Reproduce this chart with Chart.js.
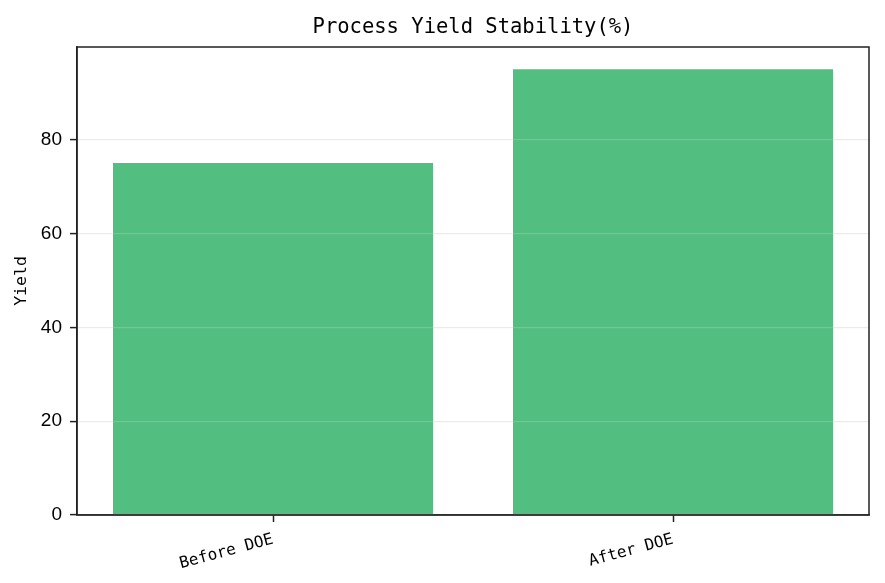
<!DOCTYPE html>
<html>
<head>
<meta charset="utf-8">
<script src="https://cdn.jsdelivr.net/npm/chart.js@4.4.1/dist/chart.umd.min.js"></script>
<style>
  html, body { margin: 0; padding: 0; background: #fff; }
  #wrap { width: 885px; height: 583px; }
</style>
</head>
<body>
<div id="wrap"><canvas id="barChart" width="885" height="583"></canvas></div>
<script>
// chart data
const categories = ['Before DOE', 'After DOE'];
const yieldValues = [75, 95];
const yTicks = [0, 20, 40, 60, 80];

const monoFont = "'DejaVu Sans Mono', monospace";
const axisColor = '#222222';

// draw the box round the plot area (top and right edges)
const frameBox = {
    id: 'frameBox',
    afterDraw(chart) {
        const { ctx, chartArea } = chart;
        ctx.save();
        ctx.strokeStyle = axisColor;
        ctx.lineWidth = 1.5;
        ctx.strokeRect(chartArea.left, chartArea.top, chartArea.right - chartArea.left, chartArea.bottom - chartArea.top);
        ctx.restore();
    }
};

const ctx = document.getElementById('barChart').getContext('2d');
new Chart(ctx, {
    type: 'bar',
    data: {
        datasets: [{
            label: 'Yield',
            data: yieldValues.map((v, i) => ({ x: i, y: v })),
            backgroundColor: '#52be80',
            borderWidth: 0,
            barPercentage: 0.8,
            categoryPercentage: 1.0
        }]
    },
    options: {
        responsive: false,
        animation: false,
        devicePixelRatio: 1,
        layout: { padding: { left: 0, right: 16, top: 0, bottom: 0 } },
        plugins: {
            legend: { display: false },
            tooltip: { enabled: false },
            title: {
                display: true,
                text: 'Process Yield Stability(%)',
                color: '#000',
                fullSize: false,
                font: { family: monoFont, size: 20.5, weight: 'normal' },
                padding: { top: 15, bottom: 7.4 }
            }
        },
        scales: {
            x: {
                type: 'linear',
                min: -0.49,
                max: 1.49,
                offset: false,
                afterFit(scale) { scale.height = 68; },
                afterBuildTicks(scale) { scale.ticks = categories.map((c, i) => ({ value: i })); },
                grid: { display: true, offset: false, drawOnChartArea: false, drawTicks: true, tickLength: 7, tickColor: axisColor, tickWidth: 1.5 },
                border: { display: true, color: axisColor, width: 1.5 },
                ticks: {
                    color: '#000',
                    font: { family: monoFont, size: 16 },
                    minRotation: 15,
                    maxRotation: 15,
                    padding: 8,
                    callback: (value) => categories[value]
                }
            },
            y: {
                min: 0,
                max: 99.75,
                afterFit(scale) { scale.width = 77; },
                afterBuildTicks(scale) { scale.ticks = yTicks.map(v => ({ value: v })); },
                grid: { z: 1, color: 'rgba(200,200,200,0.36)', lineWidth: 1.2, drawTicks: true, tickLength: 7, tickColor: axisColor, tickWidth: 1.5 },
                border: { display: true, color: axisColor, width: 1.5, z: 2 },
                ticks: {
                    color: '#000',
                    font: { family: "'Liberation Sans', sans-serif", size: 19 },
                    padding: 8
                },
                title: {
                    display: true,
                    text: 'Yield',
                    color: '#000',
                    font: { family: monoFont, size: 16.5 },
                    padding: { top: 12, bottom: 0 }
                }
            }
        }
    },
    plugins: [frameBox]
});
</script>
</body>
</html>
